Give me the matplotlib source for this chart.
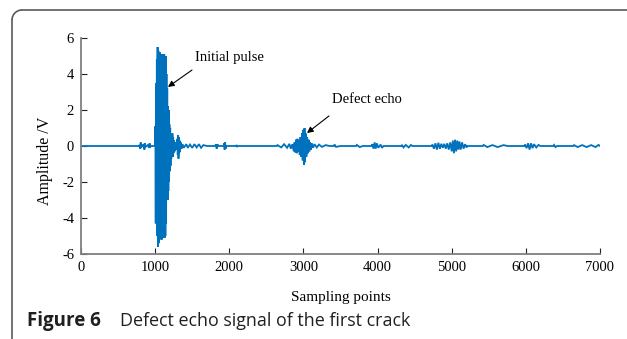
import matplotlib
matplotlib.use("Agg")
import matplotlib.pyplot as plt
from matplotlib.patches import Arc
from matplotlib.lines import Line2D

plt.rcParams['axes.unicode_minus'] = False

# ---- data (sample index, amplitude in V) ----
baseline_samples = [0, 780]
baseline_values = [0, 0]

pre_samples = [790, 800, 805, 810, 815, 830, 850, 855, 860, 870, 900, 920, 925, 930, 940, 995]
pre_values = [0.05, -0.15, 0.2, -0.1, 0.1, -0.05, 0.1, -0.2, 0.15, -0.05, 0.05, -0.1, 0.15, -0.1, 0.0, 0.0]

pulse_samples = [1000, 1003, 1008, 1013, 1018, 1023, 1028, 1033, 1038, 1043, 1048, 1053, 1058,
                 1063, 1068, 1073, 1078, 1083, 1088, 1093, 1098, 1103, 1108, 1113, 1118, 1123,
                 1128, 1133, 1138, 1143, 1148, 1153, 1158, 1163, 1168, 1173, 1178, 1183, 1188,
                 1193, 1198, 1203, 1208, 1213, 1218, 1223, 1228, 1233, 1238, 1243, 1248, 1255,
                 1262, 1270, 1280, 1290]
pulse_values = [0.0, 1.1, -4.3, 3.5, -3.0, 4.8, -5.0, 5.5, -5.6, 5.3, -5.4, 5.0, -5.2,
                5.2, -5.0, 5.1, -5.1, 5.0, -5.2, 5.1, -5.1, 5.0, -5.1, 5.0, -5.1, 5.1,
                -5.1, 5.0, -5.0, 5.0, -4.3, 4.0, -3.0, 3.2, -3.0, 2.2, -2.5, 2.0, -2.0,
                1.2, -1.4, 1.0, -1.1, 0.6, -0.7, 0.5, -0.5, 0.7, -0.6, 0.5, -0.4, 0.3,
                -0.3, 0.2, -0.2, 0.15]

tail_samples = [1300, 1305, 1310, 1315, 1320, 1325, 1330, 1335, 1345, 1355, 1370, 1385,
                1420, 1440, 1470, 1500, 1530, 1560, 1590, 1620, 1650, 1700,
                1810, 1820, 1830, 1840, 1850, 1925, 1930, 1937, 1944, 1950, 1960,
                2095, 2100, 2105, 2110]
tail_values = [0.4, -0.5, 0.6, -0.7, 0.5, -0.4, 0.3, -0.3, 0.2, -0.15, 0.1, -0.1,
               0.1, -0.1, 0.08, -0.1, 0.1, -0.08, 0.1, -0.1, 0.05, 0.0,
               0.0, 0.1, -0.15, 0.1, 0.0, 0.0, 0.15, -0.2, 0.2, -0.15, 0.0,
               0.0, 0.06, -0.06, 0.0]

echo_samples = [2640, 2650, 2700, 2740, 2780, 2810, 2830, 2850, 2870, 2880, 2890, 2900, 2910,
                2920, 2930, 2940, 2950, 2960, 2970, 2980, 2990, 3000, 3008, 3015, 3022, 3030,
                3040, 3050, 3060, 3070, 3080, 3090, 3100, 3115, 3130, 3150, 3180, 3210, 3250,
                3300, 3350]
echo_values = [0.0, 0.05, -0.08, 0.1, -0.1, 0.12, -0.15, 0.1, -0.3, 0.2, -0.35, 0.35, -0.4,
               0.4, -0.3, 0.3, -0.5, 0.5, -0.6, 0.7, -0.8, 0.9, -1.05, 1.0, -0.9, 0.7,
               -0.6, 0.5, -0.4, 0.35, -0.3, 0.2, -0.2, 0.15, -0.1, 0.1, -0.08, 0.08, -0.05,
               0.05, 0.0]

late_samples = [3410, 3420, 3440, 3500, 3710, 3720, 3760, 3800,
                3920, 3930, 3945, 3960, 3975, 3990, 4010, 4040, 4060, 4080,
                4320, 4330, 4350, 4380, 4420, 4450, 4470,
                4730, 4740, 4760, 4780, 4800, 4820, 4840, 4860, 4880, 4900, 4920, 4940, 4960,
                4980, 5000, 5015, 5030, 5045, 5060, 5075, 5090, 5105, 5120, 5140, 5160, 5180,
                5200, 5210,
                5420, 5430, 5480, 5550, 5620, 5700, 5750,
                5980, 5990, 6010, 6030, 6050, 6070, 6090, 6110, 6140, 6170, 6195,
                6370, 6380, 6400, 6420,
                6640, 6650, 6700, 6760, 6820, 6880, 6940, 6980, 7000]
late_values = [0.0, 0.08, -0.05, 0.0, 0.0, 0.06, -0.06, 0.0,
               0.0, 0.1, -0.15, 0.2, -0.15, 0.15, -0.1, 0.08, -0.1, 0.0,
               0.0, 0.06, -0.08, 0.06, -0.08, 0.06, 0.0,
               0.0, 0.08, -0.15, 0.15, -0.2, 0.18, -0.15, 0.12, -0.1, 0.12, -0.15, 0.15, -0.2,
               0.2, -0.3, 0.3, -0.4, 0.35, -0.3, 0.3, -0.2, 0.25, -0.2, 0.2, -0.15, 0.1,
               -0.08, 0.0,
               0.0, 0.06, -0.06, 0.05, -0.06, 0.05, 0.0,
               0.0, 0.08, -0.12, 0.15, -0.2, 0.15, -0.12, 0.1, -0.08, 0.06, 0.0,
               0.0, 0.06, -0.06, 0.0,
               0.0, 0.05, -0.06, 0.05, -0.06, 0.05, -0.06, 0.06, 0.0]

x_ticks = [0, 1000, 2000, 3000, 4000, 5000, 6000, 7000]
y_ticks = [-6, -4, -2, 0, 2, 4, 6]

samples = (baseline_samples + pre_samples + pulse_samples + tail_samples
           + echo_samples + late_samples)
values = (baseline_values + pre_values + pulse_values + tail_values
          + echo_values + late_values)

W, H = 627, 339
fig = plt.figure(figsize=(W / 100, H / 100), dpi=100)
ax = fig.add_axes([81 / W, 1 - 254 / H, (600 - 81) / W, (254 - 38) / H])

ax.plot(samples, values, color='#0072BD', lw=1.3, solid_joinstyle='miter')
ax.set_xlim(0, 7000)
ax.set_ylim(-6, 6)
ax.set_xticks(x_ticks)
ax.set_yticks(y_ticks)
serif = 'Liberation Serif'
ax.set_xticklabels([str(t) for t in x_ticks], family=serif, fontsize=10.5)
ax.set_yticklabels([str(t) for t in y_ticks], family=serif, fontsize=10.5)
ax.tick_params(direction='in', length=4, width=0.8, color='#222222', pad=5)
for s in ['top', 'right']:
    ax.spines[s].set_visible(False)
for s in ['left', 'bottom']:
    ax.spines[s].set_color('#808080')
    ax.spines[s].set_linewidth(1.3)
ax.set_xlabel('Sampling points', family=serif, fontsize=11, labelpad=12)
ax.set_ylabel('Amplitude /V', family=serif, fontsize=11.5)
ax.yaxis.set_label_coords(-0.054, 0.43)

arrow = dict(arrowstyle='-|>', color='black', lw=0.8, mutation_scale=9, shrinkA=0, shrinkB=0)
ax.annotate('', xy=(1173, 3.28), xytext=(1497, 4.22), arrowprops=arrow)
ax.text(1538, 4.94, 'Initial pulse', family=serif, fontsize=10.5, ha='left', va='center')
ax.annotate('', xy=(3048, 0.72), xytext=(3345, 1.67), arrowprops=arrow)
ax.text(3385, 2.56, 'Defect echo', family=serif, fontsize=10.5, ha='left', va='center')

# frame around the figure (rounded top-left corner), drawn in inches
tr = fig.dpi_scale_trans
r = 10
left_x, top_y = 12, 10
lc = '#5a5a5a'
fig.add_artist(Line2D([(left_x + r) / 100, 7.0], [(H - top_y) / 100] * 2, transform=tr,
                      color=lc, lw=1.2))
fig.add_artist(Line2D([left_x / 100] * 2, [(H - top_y - r) / 100, -0.5], transform=tr,
                      color=lc, lw=1.2))
fig.add_artist(Arc(((left_x + r) / 100, (H - top_y - r) / 100), 2 * r / 100, 2 * r / 100,
                   theta1=90, theta2=180, transform=tr, color=lc, lw=1.2))

fig.text(27 / W, 1 - 321 / H, 'Figure 6', family='Open Sans', fontweight='bold',
         fontsize=13.5, color='#231f20', ha='left', va='center')
fig.text(120 / W, 1 - 321 / H, 'Defect echo signal of the first crack', family='Open Sans',
         fontsize=12.9, color='#231f20', ha='left', va='center')

fig.savefig('out.png', dpi=100)
